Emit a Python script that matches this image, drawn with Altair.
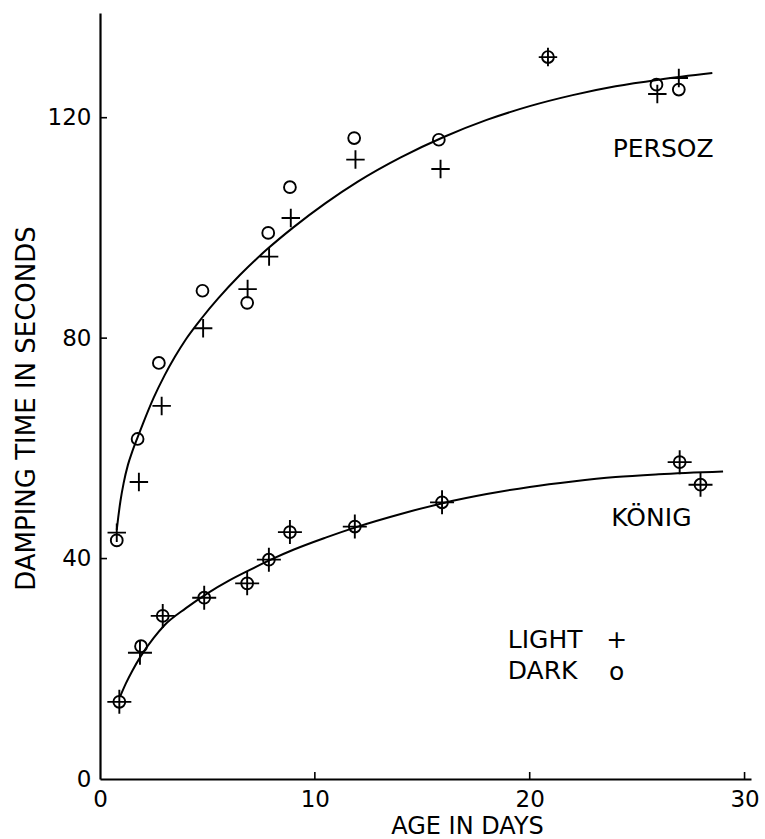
import altair as alt
import pandas as pd

# ---------------- data ----------------
# PERSOZ
persoz_dark_day = [0.78, 1.75, 2.74, 4.77, 6.85, 7.83, 8.84, 11.83, 15.77, 20.85, 25.90, 26.94]
persoz_dark_val = [43.3, 61.7, 75.5, 88.6, 86.4, 99.1, 107.4, 116.3, 116.0, 131.0, 126.0, 125.1]
persoz_light_day = [0.78, 1.81, 2.87, 4.80, 6.87, 7.87, 8.88, 11.89, 15.85, 20.85, 25.94, 26.94]
persoz_light_val = [44.7, 53.9, 67.7, 81.8, 88.9, 94.8, 101.8, 112.4, 110.7, 131.0, 124.3, 127.2]
persoz_curve_day = [0.78, 0.85, 0.95, 1.10, 1.30, 1.50, 1.75, 2.00, 2.50, 3.00, 3.50, 4.00,
                    4.75, 5.50, 6.50, 7.80, 9.00, 10.50, 12.00, 14.00, 16.00, 18.00, 20.00,
                    22.00, 24.00, 26.00, 28.50]
persoz_curve_val = [45.2, 47.5, 50.4, 53.7, 57.0, 59.4, 62.0, 64.5, 69.2, 73.2, 76.7, 79.8,
                    83.7, 87.2, 91.4, 96.2, 100.1, 104.5, 108.4, 112.8, 116.5, 119.6, 122.1,
                    124.1, 125.7, 126.9, 128.1]

# KÖNIG
konig_dark_day = [0.90, 1.91, 2.92, 4.85, 6.85, 7.86, 8.84, 11.86, 15.92, 26.98, 27.95]
konig_dark_val = [14.0, 24.1, 29.6, 32.9, 35.5, 39.8, 44.8, 45.8, 50.2, 57.5, 53.4]
konig_light_day = [0.90, 1.86, 2.92, 4.85, 6.85, 7.86, 8.84, 11.86, 15.92, 26.98, 27.95]
konig_light_val = [14.0, 22.9, 29.6, 32.9, 35.5, 39.8, 44.8, 45.8, 50.2, 57.5, 53.4]
konig_curve_day = [0.93, 1.20, 1.50, 1.90, 2.50, 3.00, 4.00, 5.00, 6.00, 7.00, 8.00, 9.00,
                   10.50, 12.00, 14.00, 16.00, 18.00, 20.00, 22.00, 24.00, 26.00, 29.00]
konig_curve_val = [14.9, 17.3, 19.6, 22.3, 25.6, 27.9, 31.0, 33.7, 36.0, 38.0, 39.9, 41.6,
                   43.8, 45.8, 48.1, 50.1, 51.7, 53.0, 54.0, 54.8, 55.3, 55.8]

x_ticks = [0, 10, 20, 30]
y_ticks = [0, 40, 80, 120]
x_inner_ticks = [10, 20, 30]
y_inner_ticks = [40, 80, 120]

# ---------------- build ----------------
FONT = "DejaVu Sans"
W, H = 651, 766

xs = alt.Scale(domain=[0, 30.3], nice=False, zero=False)
ys = alt.Scale(domain=[0, 139], nice=False, zero=False)

x_axis = alt.Axis(values=x_ticks, format="d", ticks=False, grid=False,
                  domainColor="black", domainWidth=2.2,
                  labelFont=FONT, labelFontSize=23, labelColor="black",
                  labelPadding=9, labelFlush=False, labelOverlap=False,
                  title="AGE IN DAYS", titleFont=FONT, titleFontSize=24,
                  titleFontWeight="normal", titleColor="black",
                  titleX=367, titleY=54, titleAlign="center", titleBaseline="alphabetic")
y_axis = alt.Axis(values=y_ticks, format="d", ticks=False, grid=False,
                  domainColor="black", domainWidth=2.2,
                  labelFont=FONT, labelFontSize=23, labelColor="black",
                  labelPadding=9, labelFlush=False, labelOverlap=False,
                  title="DAMPING TIME IN SECONDS", titleFont=FONT, titleFontSize=26,
                  titleFontWeight="normal", titleColor="black", titleAngle=270,
                  titleX=-66, titleY=395, titleAlign="center", titleBaseline="alphabetic")


def X(field="day"):
    return alt.X(f"{field}:Q", scale=xs, axis=x_axis)


def Y(field="value"):
    return alt.Y(f"{field}:Q", scale=ys, axis=y_axis)


def df(days, vals):
    return pd.DataFrame({"day": days, "value": vals})


CROSS = "M-1,0L1,0M0,-1L0,1"

layers = []
# fitted curves
for d, v in [(persoz_curve_day, persoz_curve_val), (konig_curve_day, konig_curve_val)]:
    layers.append(alt.Chart(df(d, v)).mark_line(color="black", strokeWidth=2,
                                                interpolate="monotone").encode(x=X(), y=Y()))
# dark = circles
for d, v in [(persoz_dark_day, persoz_dark_val), (konig_dark_day, konig_dark_val)]:
    layers.append(alt.Chart(df(d, v)).mark_point(shape="circle", filled=False, size=140,
                                                 strokeWidth=1.9, color="black", opacity=1)
                  .encode(x=X(), y=Y()))
# light = crosses
layers.append(alt.Chart(df(persoz_light_day, persoz_light_val)).mark_point(
    shape=CROSS, filled=False, size=340, strokeWidth=1.9, color="black", opacity=1)
    .encode(x=X(), y=Y()))
layers.append(alt.Chart(df(konig_light_day, konig_light_val)).mark_point(
    shape=CROSS, filled=False, size=576, strokeWidth=1.9, color="black", opacity=1)
    .encode(x=X(), y=Y()))

# inward tick marks
layers.append(alt.Chart(pd.DataFrame({"day": x_inner_ticks})).mark_rule(
    color="black", strokeWidth=1.6).encode(x=X(), y=alt.value(H), y2=alt.value(H - 7)))
layers.append(alt.Chart(pd.DataFrame({"value": y_inner_ticks})).mark_rule(
    color="black", strokeWidth=1.6).encode(y=Y(), x=alt.value(0), x2=alt.value(7)))


# annotations
def label(text, day, value, align="left", size=25):
    return alt.Chart(pd.DataFrame({"t": [text]})).mark_text(
        font=FONT, fontSize=size, color="black", align=align, baseline="middle"
    ).encode(x=alt.datum(day, scale=xs), y=alt.datum(value, scale=ys), text="t:N")


layers.append(label("PERSOZ", 23.86, 114.4))
layers.append(label("KÖNIG", 23.80, 47.4))
layers.append(label("LIGHT", 18.98, 25.2))
layers.append(label("+", 24.05, 25.2, align="center"))
layers.append(label("DARK", 18.98, 19.66))
layers.append(label("o", 24.05, 19.4, align="center"))

chart = alt.layer(*layers).properties(
    width=W, height=H,
    autosize=alt.AutoSizeParams(type="none"),
    padding={"left": 100, "top": 13, "right": 14, "bottom": 60},
    background="white",
).configure_view(stroke=None)

chart.save("out.html", embed_options={"renderer": "svg", "actions": False})
